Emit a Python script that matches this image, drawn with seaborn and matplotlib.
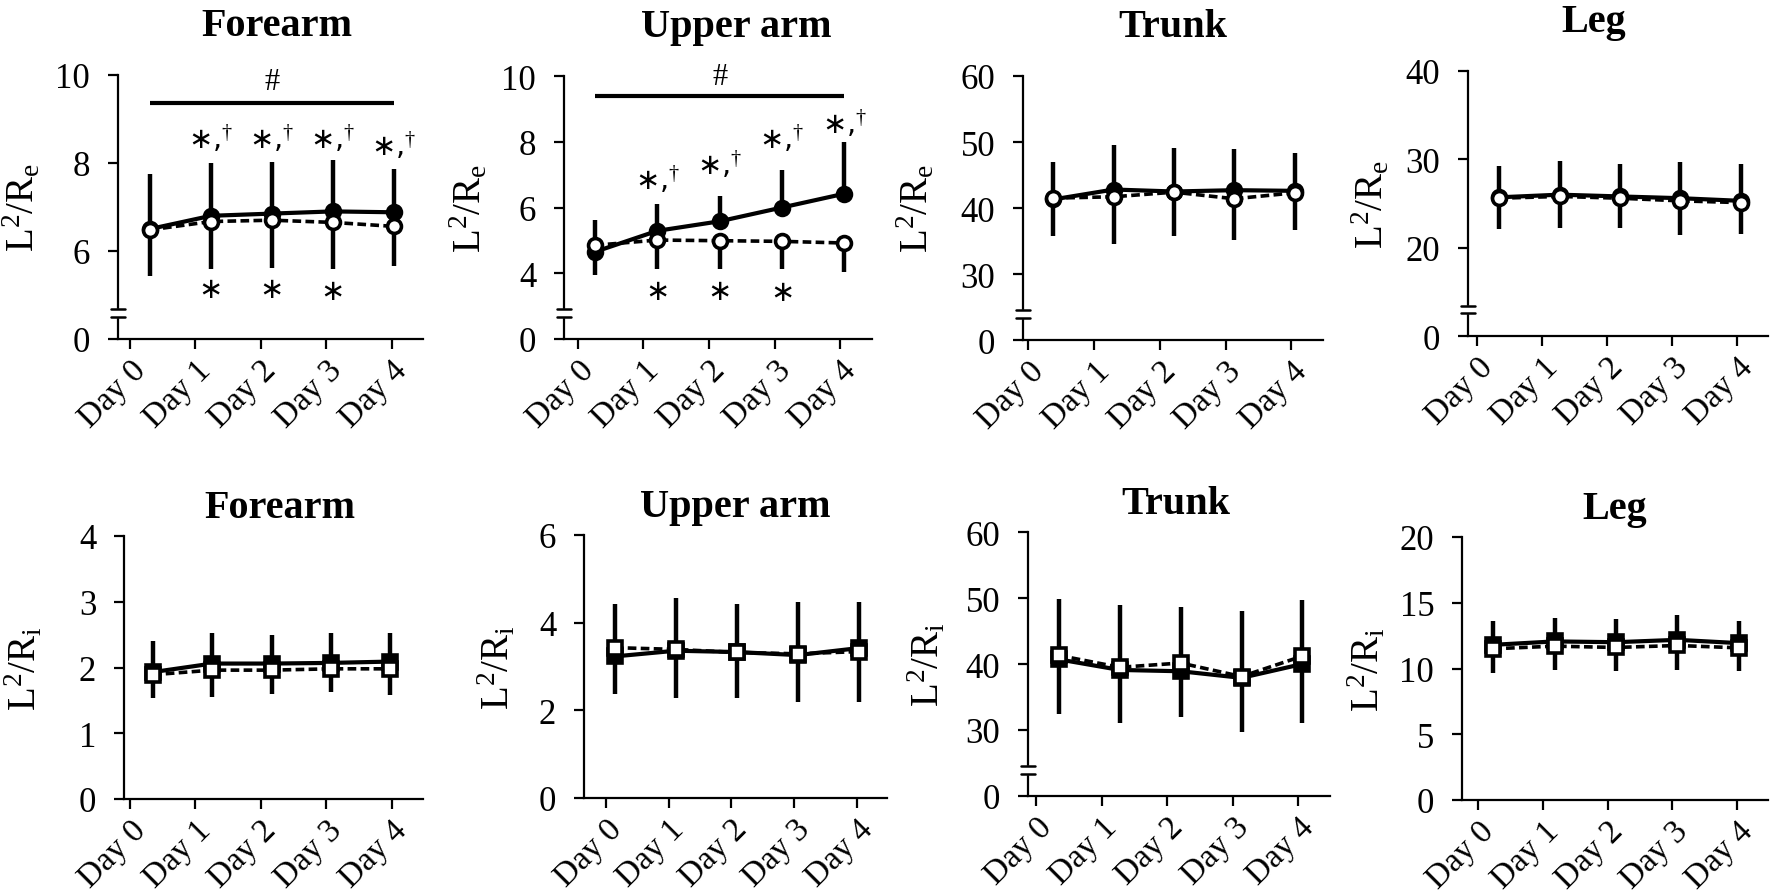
import numpy as np
import pandas as pd
import seaborn as sns
import matplotlib.pyplot as plt
import matplotlib.transforms as mtransforms

# categories
days = ["Day 0", "Day 1", "Day 2", "Day 3", "Day 4"]
regions = ["Forearm", "Upper arm", "Trunk", "Leg"]

# L2/Re (top row), rows = regions; solid line / filled markers and dashed line / open markers
re_solid = [[6.50, 6.80, 6.85, 6.90, 6.88],
            [4.65, 5.29, 5.58, 6.00, 6.42],
            [41.3, 42.8, 42.5, 42.7, 42.6],
            [25.7, 26.0, 25.8, 25.6, 25.3]]
re_solid_sd = [[1.25, 1.19, 1.17, 1.16, 0.98],
               [0.96, 0.81, 0.76, 1.15, 1.57],
               [5.7, 6.8, 6.6, 6.3, 5.8],
               [3.6, 3.8, 3.7, 4.1, 4.2]]
re_open = [[6.48, 6.67, 6.70, 6.65, 6.56],
           [4.85, 5.01, 4.99, 4.97, 4.92],
           [41.5, 41.7, 42.4, 41.4, 42.3],
           [25.6, 25.8, 25.6, 25.3, 25.1]]
re_open_sd = [[1.04, 1.09, 1.08, 1.06, 0.89],
              [0.89, 0.89, 0.87, 0.85, 0.88],
              [5.8, 7.2, 6.7, 6.2, 5.7],
              [3.5, 3.6, 3.4, 3.9, 3.55]]

# L2/Ri (bottom row)
ri_solid = [[1.93, 2.06, 2.06, 2.07, 2.09],
            [3.23, 3.36, 3.33, 3.26, 3.42],
            [40.7, 39.1, 38.9, 37.9, 40.0],
            [11.8, 12.06, 12.0, 12.18, 11.93]]
ri_solid_sd = [[0.47, 0.46, 0.43, 0.45, 0.44],
               [1.20, 1.21, 1.10, 1.21, 1.06],
               [9.2, 9.8, 9.8, 10.1, 9.7],
               [1.80, 1.77, 1.78, 1.86, 1.72]]
ri_open = [[1.89, 1.96, 1.96, 1.98, 1.98],
           [3.43, 3.39, 3.32, 3.29, 3.34],
           [41.3, 39.5, 40.15, 38.1, 41.2],
           [11.5, 11.7, 11.6, 11.75, 11.57]]
ri_open_sd = [[0.35, 0.41, 0.37, 0.36, 0.40],
              [1.05, 1.12, 1.03, 1.10, 1.16],
              [8.9, 8.4, 8.15, 8.4, 10.1],
              [1.83, 1.85, 1.80, 1.83, 1.77]]

# axis ranges / ticks (first tick of a broken axis is labelled "0")
re_yticks = [[4, 6, 8, 10], [2, 4, 6, 8, 10], [20, 30, 40, 50, 60], [10, 20, 30, 40]]
ri_yticks = [[0, 1, 2, 3, 4], [0, 2, 4, 6], [20, 30, 40, 50, 60], [0, 5, 10, 15, 20]]
re_broken = [True, True, True, True]
ri_broken = [False, False, True, False]

# significance marks (top forearm and upper arm)
hash_y = [9.37, 9.38]
hash_text_y = [9.85, 9.97]
dagger_y = [[8.55, 8.55, 8.55, 8.40], [6.84, 7.29, 8.10, 8.56]]
star_y = [[5.14, 5.14, 5.10], [3.45, 3.45, 3.42]]

# layout (pixel boxes: left, top, right, bottom) and x placement
re_boxes = [(118, 76, 423, 340), (564, 77, 872, 340), (1023, 77, 1323, 341), (1468, 72, 1768, 337)]
ri_boxes = [(124, 537, 423, 800), (584, 536, 887, 799), (1028, 533, 1330, 797), (1462, 538, 1768, 801)]
re_xspan = [(0.31, 4.03), (0.26, 4.06), (0.38, 4.05), (0.34, 4.06)]
ri_xspan = [(0.35, 3.98), (0.14, 4.03), (0.35, 4.06), (0.23, 4.03)]
re_xleft = [-0.18, -0.21, -0.08, -0.14]
ri_xleft = [-0.09, -0.35, -0.12, -0.25]
re_title_x = [0.52, 0.56, 0.5, 0.42]
ri_title_x = [0.52, 0.5, 0.49, 0.5]
re_ylab_dx = [75, 74, 86, 76]
ri_ylab_dx = [79, 66, 80, 74]

W, H = 1773, 895

sns.set_theme(style="ticks")
plt.rcParams["font.family"] = ["Liberation Serif", "DejaVu Serif"]
plt.rcParams["mathtext.fontset"] = "custom"
plt.rcParams["mathtext.rm"] = "Liberation Serif"
plt.rcParams["mathtext.it"] = "Liberation Serif:italic"
plt.rcParams["text.color"] = "black"
plt.rcParams["axes.labelcolor"] = "black"
plt.rcParams["xtick.color"] = "black"
plt.rcParams["ytick.color"] = "black"

fig = plt.figure(figsize=(W / 100, H / 100), dpi=100)
label_shift = mtransforms.ScaledTranslation(11 / 100, 6 / 100, fig.dpi_scale_trans)


def draw_panel(box, title, solid, solid_sd, opn, opn_sd, yticks, broken,
               xspan, xleft, title_x, ylab_dx, marker, ylabel):
    l, t, r, b = box
    ax = fig.add_axes([l / W, 1 - b / H, (r - l) / W, (b - t) / H])
    x = np.linspace(xspan[0], xspan[1], 5)
    solid = np.array(solid)
    opn = np.array(opn)
    df = pd.DataFrame({"x": x, "solid": solid, "open": opn})

    # error bars: solid series upwards, open series downwards
    ax.vlines(x, solid, solid + np.array(solid_sd), color="black", lw=3.2, zorder=1)
    ax.vlines(x, opn - np.array(opn_sd), opn, color="black", lw=3.2, zorder=1)

    ms = 10
    sns.lineplot(data=df, x="x", y="solid", ax=ax, color="black", lw=3,
                 marker=marker, markersize=ms, markerfacecolor="black",
                 markeredgecolor="black", markeredgewidth=2.6, zorder=2)
    sns.lineplot(data=df, x="x", y="open", ax=ax, color="black", lw=2.6,
                 linestyle=(0, (2.4, 1.2)), marker=marker, markersize=ms,
                 markerfacecolor="white", markeredgecolor="black",
                 markeredgewidth=2.6, zorder=3)

    ax.set_xlim(xleft, 4.48)
    ax.set_ylim(yticks[0], yticks[-1])
    ax.set_xticks(range(5))
    ax.set_yticks(yticks)
    labels = [str(v) for v in yticks]
    if broken:
        labels[0] = "0"
    ax.set_yticklabels(labels)
    ax.set_xlabel("")
    ax.set_ylabel(ylabel, fontsize=28)
    ax.yaxis.set_label_coords(-ylab_dx / (r - l), 0.5)
    ax.set_title(title, fontsize=29, fontweight="bold", x=title_x,
                 pad=29 if t < 300 else 14)

    sns.despine(ax=ax)
    for s in ["left", "bottom"]:
        ax.spines[s].set_linewidth(1.6)
        ax.spines[s].set_color("black")
    ax.tick_params(axis="both", direction="out", length=7, width=1.6)
    ax.tick_params(axis="y", pad=13, labelsize=25)
    ax.tick_params(axis="x", pad=16, labelsize=24)

    # x labels set after tick_params so the extra offset is kept
    ax.set_xticklabels(days, rotation=45, ha="right", va="center",
                       rotation_mode="anchor")
    for lab in ax.get_xticklabels():
        lab.set_transform(lab.get_transform() + label_shift)

    if broken:
        dx = 7 / (r - l)
        ax.fill_between([-dx / 2, dx / 2], 0.085, 0.115, color="white",
                        transform=ax.transAxes, clip_on=False, zorder=5)
        for yb in (0.085, 0.115):
            ax.plot([-dx, dx], [yb, yb], color="black", lw=1.8,
                    transform=ax.transAxes, clip_on=False, zorder=6)
    return ax, x


for i, name in enumerate(regions):
    ax, x = draw_panel(re_boxes[i], name, re_solid[i], re_solid_sd[i],
                       re_open[i], re_open_sd[i], re_yticks[i], re_broken[i],
                       re_xspan[i], re_xleft[i], re_title_x[i], re_ylab_dx[i],
                       "o", r"L$^{2}$/R$_{\mathrm{e}}$")
    if i < 2:
        ax.hlines(hash_y[i], x[0], x[-1], color="black", lw=3)
        ax.text((x[0] + x[-1]) / 2, hash_text_y[i], "#", ha="center",
                va="center", fontsize=22)
        for k in range(4):
            ax.text(x[k + 1], dagger_y[i][k], "\u2217,$^{\u2020}$", ha="center",
                    va="center", fontsize=21, family=["DejaVu Sans"])
        for k in range(3):
            ax.text(x[k + 1], star_y[i][k], "\u2217", ha="center", va="center",
                    fontsize=21, family=["DejaVu Sans"])

for i, name in enumerate(regions):
    draw_panel(ri_boxes[i], name, ri_solid[i], ri_solid_sd[i],
               ri_open[i], ri_open_sd[i], ri_yticks[i], ri_broken[i],
               ri_xspan[i], ri_xleft[i], ri_title_x[i], ri_ylab_dx[i],
               "s", r"L$^{2}$/R$_{\mathrm{i}}$")

fig.savefig("out.png", dpi=100)
